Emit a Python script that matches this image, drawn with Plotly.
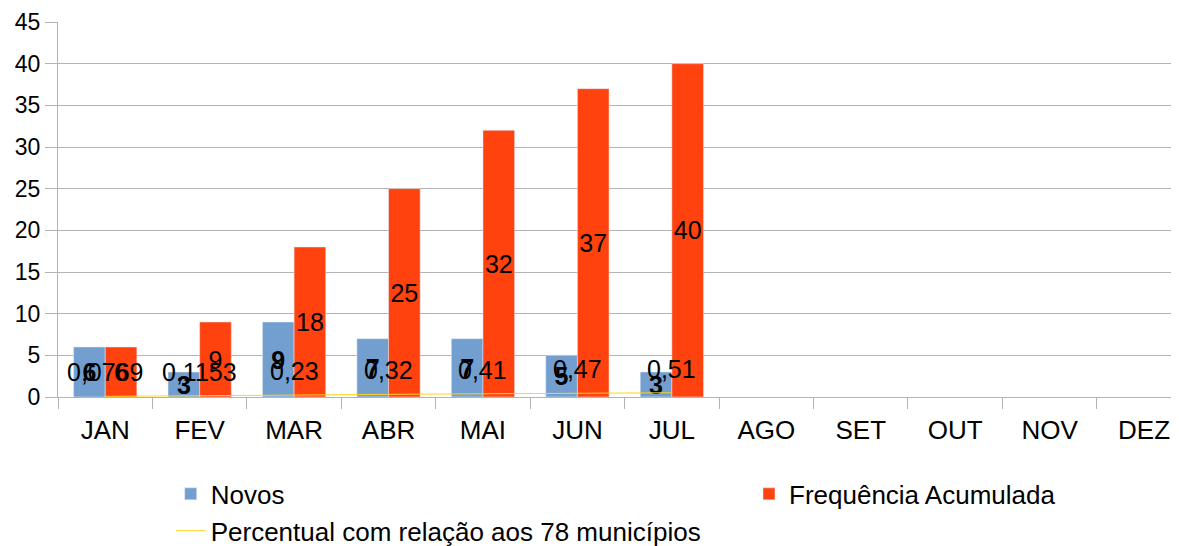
import plotly.graph_objects as go

months = ["JAN", "FEV", "MAR", "ABR", "MAI", "JUN", "JUL", "AGO", "SET", "OUT", "NOV", "DEZ"]
novos = [6, 3, 9, 7, 7, 5, 3]
acumulada = [6, 9, 18, 25, 32, 37, 40]
percentual = [0.0769, 0.1153, 0.23, 0.32, 0.41, 0.47, 0.51]
percentual_labels = ["0,0769", "0,1153", "0,23", "0,32", "0,41", "0,47", "0,51"]

FONT = "Liberation Sans, Arial, sans-serif"
data_months = months[:len(novos)]

fig = go.Figure()
fig.add_trace(go.Bar(
    x=data_months, y=novos, name="Novos", marker_color="#729fcf",
    text=[str(v) for v in novos], textposition="inside", insidetextanchor="middle",
    textangle=0, constraintext="none",
    texttemplate="<b>%{text}</b>",
    textfont=dict(color="black", size=25, family=FONT),
    legend="legend",
))
fig.add_trace(go.Bar(
    x=data_months, y=acumulada, name="Frequência Acumulada", marker_color="#ff420e",
    text=[str(v) for v in acumulada], textposition="inside", insidetextanchor="middle",
    textangle=0, constraintext="none",
    textfont=dict(color="black", size=25, family=FONT),
    legend="legend2",
))
fig.add_trace(go.Scatter(
    x=data_months, y=percentual, name="Percentual com relação aos 78 municípios",
    mode="lines", line=dict(color="#ffd320", width=1),
    legend="legend",
))
for m, v, lab in zip(data_months, percentual, percentual_labels):
    fig.add_annotation(x=m, y=v, text=lab, showarrow=False, yshift=24,
                       font=dict(color="black", size=25, family=FONT))

fig.update_layout(
    width=1179, height=546,
    margin=dict(l=50, r=8, t=14, b=157, autoexpand=False),
    plot_bgcolor="white", paper_bgcolor="white",
    barmode="group", bargap=0.33, bargroupgap=0,
    font=dict(family=FONT, size=24, color="black"),
    showlegend=True,
    legend=dict(orientation="v", xref="container", yref="container",
                x=0.138, y=0.153, xanchor="left", yanchor="top",
                font=dict(size=26), traceorder="normal", tracegroupgap=0,
                bgcolor="rgba(0,0,0,0)"),
    legend2=dict(orientation="v", xref="container", yref="container",
                 x=0.6285, y=0.153, xanchor="left", yanchor="top",
                 font=dict(size=26), bgcolor="rgba(0,0,0,0)"),
)
fig.update_xaxes(
    categoryorder="array", categoryarray=months, range=[-0.5, 11.37],
    showgrid=False, ticks="outside", tickson="boundaries", ticklen=11,
    tickcolor="#b3b3b3", showline=True, linecolor="#b3b3b3",
    ticklabelstandoff=10, tickfont=dict(size=26), automargin=False,
)
fig.update_yaxes(
    range=[0, 45], dtick=5, showgrid=True, gridcolor="#b3b3b3",
    ticks="outside", ticklen=12, tickcolor="#b3b3b3",
    showline=True, linecolor="#b3b3b3", zeroline=False,
    tickfont=dict(size=23), automargin=False,
)

fig.write_html("out.html")
